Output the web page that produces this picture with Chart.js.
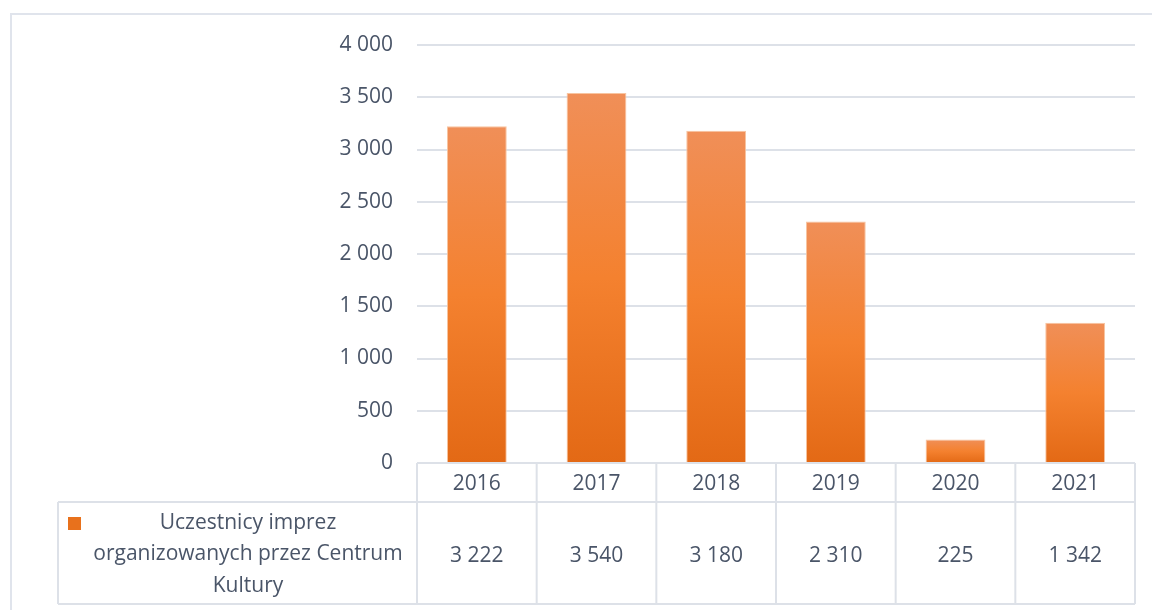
<!DOCTYPE html>
<html>
<head>
<meta charset="utf-8">
<script src="https://cdn.jsdelivr.net/npm/chart.js@4"></script>
<style>
  html, body { margin: 0; padding: 0; background: #fff; }
  #wrap { width: 1152px; height: 610px; position: relative; }
</style>
</head>
<body>
<div id="wrap"><canvas id="chart"></canvas></div>
<script>
// dane z wykresu
const years = ["2016", "2017", "2018", "2019", "2020", "2021"];
const participants = [3222, 3540, 3180, 2310, 225, 1342];
const seriesName = ["Uczestnicy imprez", "organizowanych przez Centrum", "Kultury"];
const yTicks = [0, 500, 1000, 1500, 2000, 2500, 3000, 3500, 4000];

const textColor = "#4A5568";
const lineColor = "#DDE1E8";
const font = { family: "'Open Sans', 'Noto Sans', sans-serif", size: 21 };

// odstęp tysięcy spacją
function fmt(v) {
    return String(v).replace(/\B(?=(\d{3})+(?!\d))/g, " ");
}

// gradient dla każdego słupka osobno
function barGradient(ctx) {
    const chart = ctx.chart;
    if (!chart.chartArea || ctx.type !== "data") return "#F07F2E";
    const y = chart.scales.y;
    const top = y.getPixelForValue(ctx.raw);
    const bottom = y.getPixelForValue(0);
    const g = chart.ctx.createLinearGradient(0, top, 0, bottom);
    g.addColorStop(0, "#F08F58");
    g.addColorStop(0.5, "#F4812F");
    g.addColorStop(1, "#E36915");
    return g;
}

// tabela danych pod wykresem + ramka
const tablePlugin = {
    id: "dataTable",
    beforeDraw(chart) {
        const c = chart.ctx;
        c.save();
        c.strokeStyle = "#E0E4EC";
        c.lineWidth = 2;
        c.strokeRect(11, 14, 1200, 700);
        c.restore();
    },
    afterDraw(chart) {
        const c = chart.ctx;
        const area = chart.chartArea;
        const x = chart.scales.x;
        const headTop = area.bottom;
        const rowTop = 502;
        const rowBottom = 604;
        const leftX = 58;
        const step = (area.right - area.left) / years.length;

        c.save();
        c.strokeStyle = lineColor;
        c.lineWidth = 2;
        c.beginPath();
        c.moveTo(area.left, headTop); c.lineTo(area.right, headTop);
        c.moveTo(leftX, rowTop); c.lineTo(area.right, rowTop);
        c.moveTo(leftX, rowBottom); c.lineTo(area.right, rowBottom);
        c.moveTo(leftX, rowTop); c.lineTo(leftX, rowBottom);
        for (let i = 0; i <= years.length; i++) {
            const px = area.left + step * i;
            c.moveTo(px, headTop); c.lineTo(px, rowBottom);
        }
        c.stroke();

        // wartości
        c.fillStyle = textColor;
        c.font = font.size + "px " + font.family;
        c.textAlign = "center";
        c.textBaseline = "middle";
        const midY = (rowTop + rowBottom) / 2;
        participants.forEach((v, i) => {
            c.fillText(fmt(v), x.getPixelForValue(i), midY + 3);
        });

        // legenda serii
        c.fillStyle = "#E8711C";
        c.fillRect(68, 517, 13, 13);
        c.fillStyle = textColor;
        seriesName.forEach((line, i) => {
            c.fillText(line, 248, 523 + i * 31.5);
        });
        c.restore();
    }
};

function setupChart() {
    const ctx = document.getElementById("chart").getContext("2d");
    return new Chart(ctx, {
        type: "bar",
        data: {
            labels: years,
            datasets: [{
                label: seriesName.join(" "),
                data: participants,
                backgroundColor: barGradient,
                borderColor: "#F8C4A0",
                borderWidth: 1,
                barPercentage: 0.5,
                categoryPercentage: 1
            }]
        },
        options: {
            responsive: true,
            maintainAspectRatio: false,
            animation: false,
            layout: { padding: { left: 0, right: 17, top: 45, bottom: 0 } },
            plugins: {
                legend: { display: false },
                tooltip: { enabled: false }
            },
            scales: {
                x: {
                    grid: { display: false, drawTicks: false },
                    border: { display: false },
                    ticks: { color: textColor, font: font, padding: 8, maxRotation: 0 },
                    afterFit(scale) { scale.height = 147; }
                },
                y: {
                    min: 0,
                    max: 4000,
                    afterBuildTicks(scale) { scale.ticks = yTicks.map(v => ({ value: v })); },
                    grid: { color: lineColor, lineWidth: 2, drawTicks: false },
                    border: { display: false },
                    ticks: { color: textColor, font: font, padding: 24, callback: v => fmt(v) },
                    afterFit(scale) { scale.width = 417; }
                }
            }
        },
        plugins: [tablePlugin]
    });
}

setupChart();
</script>
</body>
</html>
